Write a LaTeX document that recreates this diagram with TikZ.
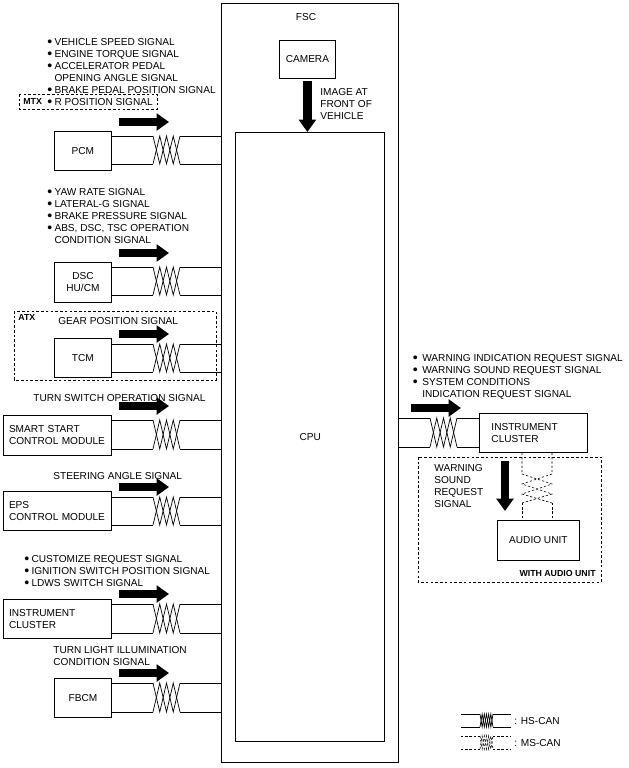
\documentclass[tikz,border=0pt]{standalone}
\usepackage{fontspec}
\setmainfont{Liberation Sans}
\usetikzlibrary{calc}
\usetikzlibrary{arrows.meta}

\def\px{.5669pt}
\newcommand{\dotmark}{\raisebox{-.35pt}{\fontsize{8}{6.85}\selectfont\textbullet}}
\newcommand{\bul}{\makebox[7.2\dimexpr.5669pt\relax][l]{\dotmark}}
\newcommand{\nobul}{\hspace*{7.2\dimexpr.5669pt\relax}}
\newcommand{\bulr}{\makebox[9.5\dimexpr.5669pt\relax][l]{\dotmark}}
\newcommand{\nobulr}{\hspace*{9.5\dimexpr.5669pt\relax}}
\newcommand{\zig}[5]{\draw[#4] (#1) \foreach \k in {1,...,#5} {-- ($(#1)!{\k/#5}!(#2)+(0,{(#3)*mod(\k,2)})$)};}

\tikzset{
  box/.style={draw,line width=.6pt,anchor=north west,inner sep=0pt,font=\fontsize{5.75}{6.85}\selectfont,align=center},
  wbox/.style={box,align=left,text width=97*\px},
  txt/.style={anchor=north west,inner sep=0pt,align=left,font=\fontsize{5.75}{6.85}\selectfont},
  tag/.style={inner sep=0pt,font=\bfseries\fontsize{5}{6}\selectfont},
  wire/.style={line width=.4pt},
  mswire/.style={line width=.35pt,dash pattern=on 1.3pt off 1.1pt},
  dashbox/.style={draw,line width=.45pt,dash pattern=on 1.5pt off 1.2pt},
  bigarrow/.style={line width=4.8pt,-{Triangle[length=7pt,width=9.5pt]}}
}

\begin{document}
\begin{tikzpicture}[x=.02cm,y=-.02cm]

\useasboundingbox (0,0) rectangle (629,768);

\node[box,minimum width=178*\px,minimum height=762*\px] (fsc) at (221,3) {};
\node[box,minimum width=150*\px,minimum height=611*\px] (cpu) at (235,132) {CPU};
\node[box,minimum width=56*\px,minimum height=38*\px] (camera) at (279,40) {CAMERA};
\node[txt,anchor=center] (fsclabel) at (306,17) {FSC};
\node[txt] (image) at (320,88) {IMAGE AT\\FRONT OF\\VEHICLE};
\draw[bigarrow] (camera.south |- 0,81) -- (camera.south |- cpu.north);

\node[box,minimum width=57*\px,minimum height=39*\px] (pcm) at (54,131) {PCM};
\node[box,minimum width=57*\px,minimum height=40*\px] (dsc) at (54,262) {DSC\\HU/CM};
\node[box,minimum width=57*\px,minimum height=39*\px] (tcm) at (54,338) {TCM};
\node[wbox,minimum width=108*\px,minimum height=40*\px] (smart) at (3,415) {SMART START\\CONTROL MODULE};
\node[wbox,minimum width=108*\px,minimum height=39*\px] (eps) at (3,491) {EPS\\CONTROL MODULE};
\node[wbox,minimum width=108*\px,minimum height=39*\px] (inst) at (3,599) {INSTRUMENT\\CLUSTER};
\node[box,minimum width=57*\px,minimum height=39*\px] (fbcm) at (54,678) {FBCM};

\foreach \name/\ya/\yb/\yarrow in {pcm/136/164/122,dsc/267/295/253,tcm/344/372/334,smart/420/449/406,eps/497/525/487,inst/604/633/594,fbcm/683/712/673}{
  \coordinate (\name a) at (153,\ya);
  \coordinate (\name b) at (180,\ya);
  \draw[wire] (\name.east |- \name a) -- (\name a);
  \draw[wire] (\name.east |- 0,\yb) -- (153,\yb);
  \draw[wire] (\name b) -- (\name b -| fsc.west);
  \draw[wire] (180,\yb) -- (fsc.west |- 0,\yb);
  \zig{\name a}{\name b}{\yb-\ya}{wire}{4}
  \zig{153,\yb}{180,\yb}{\ya-\yb}{wire}{4}
  \coordinate (\name s) at (119,\yarrow);
  \coordinate (\name t) at (169,\yarrow);
  \draw[bigarrow] (\name s) -- (\name t);
}

\node[txt] (pcmsig) at (47,38) {\bul VEHICLE SPEED SIGNAL\\\bul ENGINE TORQUE SIGNAL\\\bul ACCELERATOR PEDAL\\\nobul OPENING ANGLE SIGNAL\\\bul BRAKE PEDAL POSITION SIGNAL\\\bul R POSITION SIGNAL};
\node[txt] (dscsig) at (47,188) {\bul YAW RATE SIGNAL\\\bul LATERAL-G SIGNAL\\\bul BRAKE PRESSURE SIGNAL\\\bul ABS, DSC, TSC OPERATION\\\nobul CONDITION SIGNAL};
\node[txt] (tcmsig) at (58,317) {GEAR POSITION SIGNAL};
\node[txt] (smartsig) at (33,394) {TURN SWITCH OPERATION SIGNAL};
\node[txt] (epssig) at (53,472) {STEERING ANGLE SIGNAL};
\node[txt] (instsig) at (24,555) {\bul CUSTOMIZE REQUEST SIGNAL\\\bul IGNITION SWITCH POSITION SIGNAL\\\bul LDWS SWITCH SIGNAL};
\node[txt] (fbcmsig) at (53,646) {TURN LIGHT ILLUMINATION\\CONDITION SIGNAL};

\draw[dashbox] (19,94) rectangle (157,109);
\node[tag,anchor=west] (mtx) at (23,101) {MTX};
\draw[dashbox] (14,311) rectangle (216,380);
\node[tag,anchor=west] (atx) at (18,317) {ATX};

\node[wbox,minimum width=108*\px,minimum height=39*\px,text width=84*\px] (cluster) at (479,413) {INSTRUMENT\\CLUSTER};
\node[box,minimum width=82*\px,minimum height=40*\px] (audio) at (497,520) {AUDIO UNIT};
\coordinate (cana) at (430,418);
\coordinate (canb) at (457,418);
\coordinate (canc) at (430,447);
\coordinate (cand) at (457,447);
\draw[wire] (cana -| fsc.east) -- (cana);
\draw[wire] (canc -| fsc.east) -- (canc);
\draw[wire] (canb) -- (canb -| cluster.west);
\draw[wire] (cand) -- (cand -| cluster.west);
\zig{cana}{canb}{29}{wire}{4}
\zig{canc}{cand}{-29}{wire}{4}
\coordinate (sigs) at (411,408);
\coordinate (sigt) at (461,408);
\draw[bigarrow] (sigs) -- (sigt);
\node[txt] (clustersig) at (412.5,354) {\bulr WARNING INDICATION REQUEST SIGNAL\\\bulr WARNING SOUND REQUEST SIGNAL\\\bulr SYSTEM CONDITIONS\\\nobulr INDICATION REQUEST SIGNAL};

\draw[dashbox] (418,457) rectangle (601,582);
\node[tag,anchor=east] (withaudio) at (596,573) {WITH AUDIO UNIT};
\node[txt] (soundsig) at (434,464) {WARNING\\SOUND\\REQUEST\\SIGNAL};
\coordinate (sounds) at (505,461);
\coordinate (soundt) at (505,511);
\draw[bigarrow] (sounds) -- (soundt);

\coordinate (msa) at (522,474);
\coordinate (msb) at (552,474);
\coordinate (msc) at (522,503);
\coordinate (msd) at (552,503);
\draw[mswire] (msa |- cluster.south) -- (msa) -- (msd |- 0,484) -- (msa |- 0,494) -- (msd);
\draw[mswire] (msb |- cluster.south) -- (msb) -- (msa |- 0,484) -- (msb |- 0,494) -- (msc);
\draw[mswire] (msc) -- (msc |- audio.north);
\draw[mswire] (msd) -- (msd |- audio.north);

\coordinate (hsa) at (480,714);
\coordinate (hsb) at (493,714);
\coordinate (hsc) at (480,727);
\coordinate (hsd) at (493,727);
\coordinate (hse) at (461,714);
\coordinate (hsf) at (511,714);
\coordinate (hsg) at (461,727);
\coordinate (hsh) at (511,727);
\draw[wire] (hse) -- (hsa);
\draw[wire] (hsb) -- (hsf);
\draw[wire] (hsg) -- (hsc);
\draw[wire] (hsd) -- (hsh);
\zig{hsa}{hsb}{13}{wire}{6}
\zig{hsc}{hsd}{-13}{wire}{6}
\node[txt,anchor=west] (hslabel) at (514,721) {: HS-CAN};

\coordinate (lsa) at (480,736);
\coordinate (lsb) at (493,736);
\coordinate (lsc) at (480,749);
\coordinate (lsd) at (493,749);
\coordinate (lse) at (461,736);
\coordinate (lsf) at (511,736);
\coordinate (lsg) at (461,749);
\coordinate (lsh) at (511,749);
\draw[mswire] (lse) -- (lsa);
\draw[mswire] (lsb) -- (lsf);
\draw[mswire] (lsg) -- (lsc);
\draw[mswire] (lsd) -- (lsh);
\zig{lsa}{lsb}{13}{mswire}{6}
\zig{lsc}{lsd}{-13}{mswire}{6}
\node[txt,anchor=west] (mslabel) at (514,743) {: MS-CAN};

\end{tikzpicture}
\end{document}
